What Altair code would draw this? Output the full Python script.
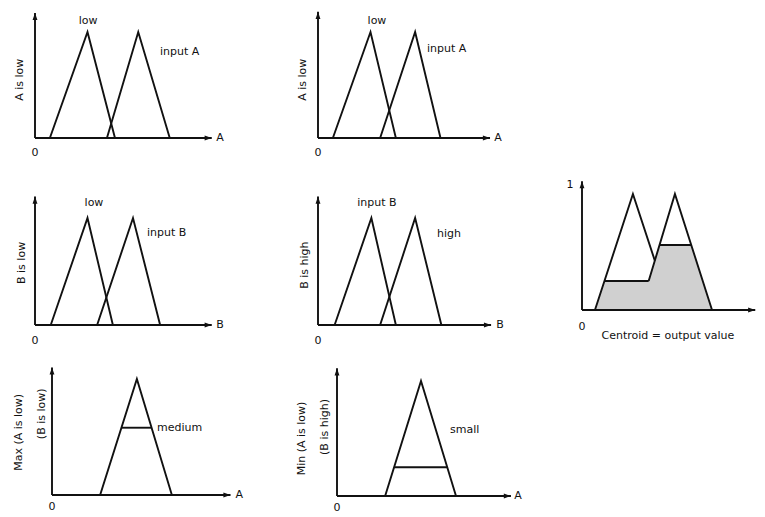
import altair as alt
import pandas as pd

# ---------------- data (universe units, membership 0..1) ----------------
TRI_Y = [0.0, 1.0, 0.0]          # membership at start, peak, end of each triangle

# top-left: "A is low"
p1_low_x = [0.85, 3.0, 4.57]
p1_inA_x = [4.11, 5.9, 7.7]
# top-middle: "A is low"
p2_low_x = [0.85, 3.0, 4.45]
p2_inA_x = [3.55, 5.55, 7.0]
# middle-left: "B is low"
p3_low_x = [0.9, 3.0, 4.45]
p3_inB_x = [3.55, 5.6, 7.15]
# middle-middle: "B is high"
p4_inB_x = [0.95, 3.05, 4.45]
p4_high_x = [3.55, 5.55, 7.05]
# bottom-left: Max -> "medium"
p5_med_x = [2.75, 4.85, 6.85]
p5_clip = 0.58
# bottom-middle: Min -> "small"
p6_small_x = [2.75, 4.8, 6.8]
p6_clip = 0.25
# right: aggregated output
p7_t1_x = [0.74, 2.91, 5.09]
p7_t2_x = [3.31, 5.31, 7.43]
p7_clip1 = 0.25
p7_clip2 = 0.56

# ---------------- styling / layout ----------------
KX = 17.5
INK = "#111111"
LW = 1.9
FONT = "DejaVu Sans"
FS = 11
ARROW_UP = "M0,0L-0.75,2.2L0.75,2.2Z"
ARROW_RIGHT = "M0,0L-2.2,-0.75L-2.2,0.75Z"
NOVIEW = alt.ViewBackground(stroke="transparent", strokeWidth=0)


def panel(cell, origin, ky, x_end, y_top, lines, rules, labels, shade=None):
    X0, Y0, W, H = cell
    Ox, By = origin
    xs = alt.Scale(domain=[(X0 - Ox) / KX, (X0 + W - Ox) / KX], nice=False, zero=False)
    ys = alt.Scale(domain=[(By - (Y0 + H)) / ky, (By - Y0) / ky], nice=False, zero=False)

    def X(f="x"):
        return alt.X(f"{f}:Q", scale=xs, axis=None)

    def Y(f="y"):
        return alt.Y(f"{f}:Q", scale=ys, axis=None)

    layers = []
    if shade is not None:
        sdf = pd.DataFrame({"x": shade[0], "y": shade[1]})
        layers.append(
            alt.Chart(sdf).mark_area(color="#d0d0d0").encode(x=X(), y=Y(), y2=alt.datum(0))
        )
    # axes + extra horizontal segments
    all_rules = [(0, x_end, 0, 0), (0, 0, 0, y_top)] + rules
    rdf = pd.DataFrame(all_rules, columns=["x", "x2", "y", "y2"])
    layers.append(
        alt.Chart(rdf).mark_rule(color=INK, strokeWidth=LW).encode(
            x=X(), x2="x2:Q", y=Y(), y2="y2:Q"
        )
    )
    # polylines (membership functions)
    rows = []
    for g, (lx, ly) in enumerate(lines):
        for i, (a, b) in enumerate(zip(lx, ly)):
            rows.append({"x": a, "y": b, "g": g, "i": i})
    ldf = pd.DataFrame(rows)
    layers.append(
        alt.Chart(ldf).mark_line(color=INK, strokeWidth=LW, strokeJoin="miter").encode(
            x=X(), y=Y(), detail="g:N", order="i:Q"
        )
    )
    # arrow heads
    layers.append(
        alt.Chart(pd.DataFrame({"x": [0], "y": [y_top]})).mark_point(
            shape=ARROW_UP, filled=True, size=42, color=INK, opacity=1
        ).encode(x=X(), y=Y())
    )
    layers.append(
        alt.Chart(pd.DataFrame({"x": [x_end], "y": [0]})).mark_point(
            shape=ARROW_RIGHT, filled=True, size=42, color=INK, opacity=1
        ).encode(x=X(), y=Y())
    )
    # text labels
    for lab in labels:
        txt, lx, ly = lab[0], lab[1], lab[2]
        align = lab[3] if len(lab) > 3 else "center"
        angle = lab[4] if len(lab) > 4 else 0
        layers.append(
            alt.Chart(pd.DataFrame({"x": [lx], "y": [ly], "t": [txt]})).mark_text(
                align=align, baseline="middle", angle=angle, font=FONT, fontSize=FS, color=INK
            ).encode(x=X(), y=Y(), text="t:N")
        )
    return alt.layer(*layers).properties(width=W, height=H, view=NOVIEW)


def clip_seg(tri, c):
    a, b, e = tri
    return (a + c * (b - a), e - c * (e - b), c, c)


# ---- panels ----
p1 = panel((8, 8, 272, 162), (35, 138), 106, 10.1, 1.18,
           [(p1_low_x, TRI_Y), (p1_inA_x, TRI_Y)], [],
           [("low", 3.03, 1.10), ("input A", 7.14, 0.81, "left"), ("A", 10.57, 0),
            ("0", 0, -0.14), ("A is low", -0.86, 0.55, "center", 270)])

p2 = panel((280, 8, 280, 162), (318, 138), 106, 9.83, 1.19,
           [(p2_low_x, TRI_Y), (p2_inA_x, TRI_Y)], [],
           [("low", 3.37, 1.10), ("input A", 6.23, 0.84, "left"), ("A", 10.29, 0),
            ("0", 0, -0.14), ("A is low", -0.86, 0.55, "center", 270)])

p3 = panel((8, 170, 272, 170), (35, 325), 107, 10.1, 1.2,
           [(p3_low_x, TRI_Y), (p3_inB_x, TRI_Y)], [],
           [("low", 3.37, 1.14), ("input B", 6.4, 0.86, "left"), ("B", 10.57, 0),
            ("0", 0, -0.15), ("B is low", -0.74, 0.58, "center", 270)])

p4 = panel((280, 170, 280, 170), (318, 325), 107, 9.89, 1.2,
           [(p4_inB_x, TRI_Y), (p4_high_x, TRI_Y)], [],
           [("input B", 3.37, 1.14), ("high", 6.8, 0.85, "left"), ("B", 10.4, 0),
            ("0", 0, -0.15), ("B is high", -0.74, 0.56, "center", 270)])

p5 = panel((8, 340, 272, 161), (52, 495), 116, 10.2, 1.10,
           [(p5_med_x, TRI_Y)], [clip_seg(p5_med_x, p5_clip)],
           [("medium", 6.0, 0.58, "left"), ("A", 10.7, 0), ("0", 0, -0.1),
            ("Max (A is low)", -1.89, 0.54, "center", 270),
            ("(B is low)", -0.57, 0.70, "center", 270)])

p6 = panel((280, 340, 280, 161), (337, 496), 115, 9.94, 1.11,
           [(p6_small_x, TRI_Y)], [clip_seg(p6_small_x, p6_clip)],
           [("small", 6.46, 0.57, "left"), ("A", 10.34, 0), ("0", 0, -0.1),
            ("Min (A is low)", -2.0, 0.5, "center", 270),
            ("(B is high)", -0.69, 0.6, "center", 270)])

# right panel: union of clipped outputs
a1, b1, e1 = p7_t1_x
a2, b2, e2 = p7_t2_x
c1, c2 = p7_clip1, p7_clip2
xi = (e1 * (b2 - a2) + a2 * (e1 - b1)) / ((b2 - a2) + (e1 - b1))
mi = (e1 - xi) / (e1 - b1)
shade_x = [a1, a1 + c1 * (b1 - a1), a2 + c1 * (b2 - a2), a2 + c2 * (b2 - a2), e2 - c2 * (e2 - b2), e2]
shade_y = [0, c1, c1, c2, c2, 0]
p7 = panel((560, 170, 197, 170), (582, 310), 116, 9.9, 1.11,
           [([a1, b1, xi], [0, 1, mi]),
            ([a2 + c1 * (b2 - a2), b2, e2], [c1, 1, 0])],
           [(a1 + c1 * (b1 - a1), a2 + c1 * (b2 - a2), c1, c1),
            (a2 + c2 * (b2 - a2), e2 - c2 * (e2 - b2), c2, c2)],
           [("1", -0.69, 1.08), ("0", 0, -0.15), ("Centroid = output value", 4.91, -0.22)],
           shade=(shade_x, shade_y))


def blank(h):
    return alt.Chart(pd.DataFrame({"x": [0], "y": [0]})).mark_point(opacity=0).encode(
        x=alt.X("x:Q", axis=None), y=alt.Y("y:Q", axis=None)
    ).properties(width=197, height=h, view=NOVIEW)


chart = alt.concat(
    p1, p2, blank(162),
    p3, p4, p7,
    p5, p6, blank(161),
    columns=3, spacing=0, bounds="flush",
).properties(padding=0, background="white").configure_view(
    stroke="transparent", strokeWidth=0
)

chart.save("out.html", embed_options={"renderer": "svg", "actions": False})
